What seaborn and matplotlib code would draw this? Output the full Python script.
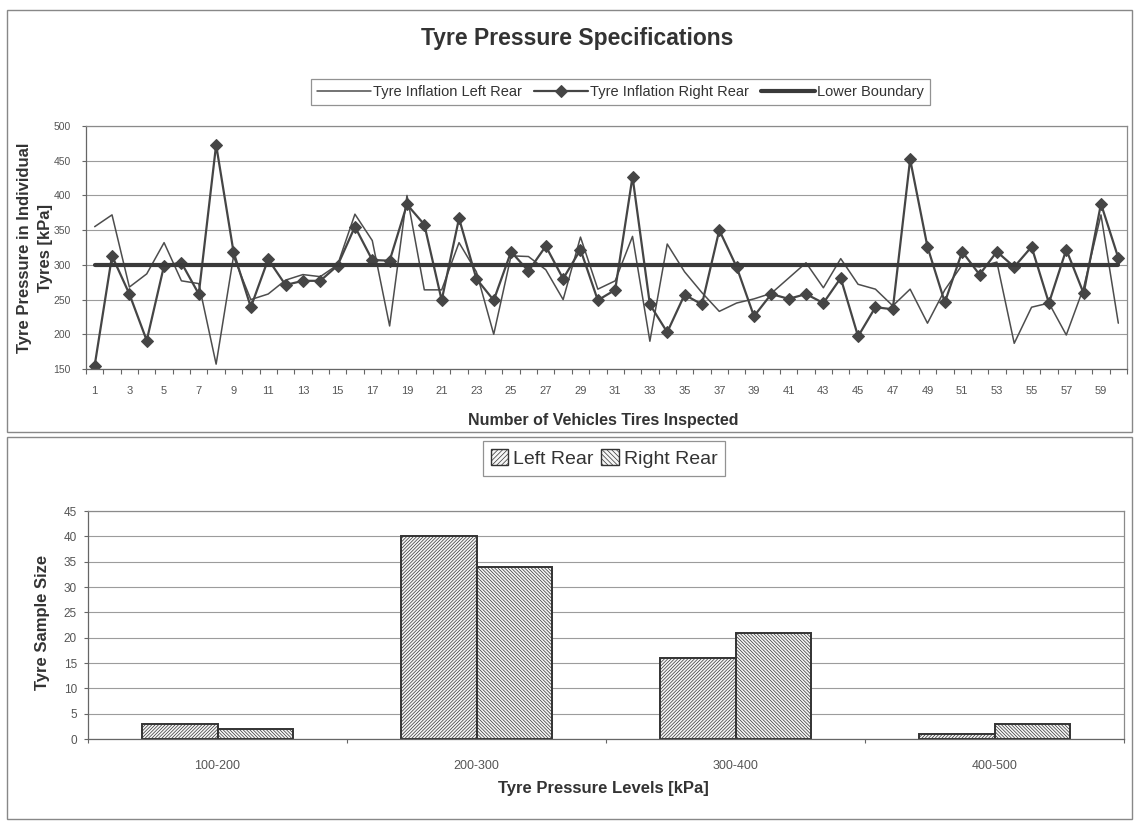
import matplotlib
matplotlib.use("Agg")
import numpy as np
import pandas as pd
import matplotlib.pyplot as plt
from matplotlib.patches import Rectangle, Patch
import seaborn as sns

# ---- data -------------------------------------------------------------
vehicles = list(range(1, 61))

left_rear = [355, 372, 268, 287, 332, 277, 273, 157, 312, 250,
             258, 278, 286, 283, 300, 373, 335, 212, 400, 264,
             264, 332, 290, 200, 313, 312, 293, 250, 340, 265,
             277, 341, 190, 330, 290, 260, 233, 245, 251, 259,
             281, 303, 267, 309, 272, 265, 241, 265, 216, 264,
             300, 297, 304, 187, 239, 245, 199, 267, 372, 216]

right_rear = [155, 313, 258, 191, 299, 303, 258, 473, 319, 239,
              308, 271, 277, 277, 299, 355, 307, 306, 387, 358,
              249, 367, 280, 249, 319, 291, 327, 280, 322, 249,
              264, 427, 243, 203, 257, 243, 350, 297, 226, 258,
              251, 258, 245, 281, 197, 239, 236, 452, 326, 246,
              319, 286, 319, 297, 326, 245, 322, 259, 388, 310]

lower_boundary = [300] * 60

x_tick_labels = [str(v) for v in vehicles[::2]]

pressure_levels = ["100-200", "200-300", "300-400", "400-500"]
left_counts = [3, 40, 16, 1]
right_counts = [2, 34, 21, 3]

# ---- style ------------------------------------------------------------
sns.set_theme(style="white")
plt.rcParams["font.family"] = ["Liberation Sans", "DejaVu Sans"]
plt.rcParams["hatch.linewidth"] = 0.5
plt.rcParams["hatch.color"] = "#444444"

W, H = 1135, 821
TXT = "#333333"
TICK = "#555555"
GRID = "#9c9c9c"

fig = plt.figure(figsize=(W / 100, H / 100), dpi=100)
fig.patch.set_facecolor("white")


def box(left, top, right, bottom):
    """Axes rectangle from pixel edges."""
    return [left / W, 1 - bottom / H, (right - left) / W, (bottom - top) / H]


# ---- top panel: per-vehicle tyre pressures ----------------------------
ax1 = fig.add_axes(box(86, 126, 1127, 369))
sns.lineplot(x=vehicles, y=left_rear, ax=ax1, color="#4d4d4d", lw=1.1,
             label="Tyre Inflation Left Rear")
sns.lineplot(x=vehicles, y=right_rear, ax=ax1, color="#454545", lw=1.6,
             marker="D", markersize=6.5, markeredgecolor="#454545",
             label="Tyre Inflation Right Rear")
sns.lineplot(x=vehicles, y=lower_boundary, ax=ax1, color="#3a3a3a", lw=3.0,
             label="Lower Boundary")

ax1.set_xlim(0.5, 60.5)
ax1.set_ylim(150, 500)
ax1.set_yticks(range(150, 501, 50))
ax1.set_xticks(vehicles[::2])
ax1.set_xticklabels(x_tick_labels)
ax1.set_xticks(np.arange(0.5, 61, 1), minor=True)
ax1.tick_params(axis="x", which="major", length=0, pad=12, labelsize=8,
                labelcolor=TICK)
ax1.tick_params(axis="x", which="minor", length=3.5, width=0.8, color="#666",
                direction="out", bottom=True)
ax1.tick_params(axis="y", length=3, width=0.8, color="#666", direction="out",
                left=True, pad=8, labelsize=7.5, labelcolor=TICK)
ax1.yaxis.grid(True, color=GRID, lw=0.8)
ax1.set_axisbelow(True)
ax1.set_xlabel("")
ax1.set_ylabel("")
for side, sp in ax1.spines.items():
    sp.set_color("#8a8a8a" if side in ("top", "right") else "#666666")
    sp.set_linewidth(0.9)

handles, labels = ax1.get_legend_handles_labels()
ax1.get_legend().remove()
fig.legend(handles, labels, loc="center", bbox_to_anchor=(620.5 / W, 1 - 92 / H),
           ncol=3, fontsize=10.5, frameon=True, fancybox=False, edgecolor="#777777",
           handlelength=3.7, handletextpad=0.15, columnspacing=0.8,
           borderpad=0.4, labelcolor=TXT).get_frame().set_linewidth(0.9)

fig.text(577 / W, 1 - 38 / H, "Tyre Pressure Specifications", ha="center",
         va="center", fontsize=16.5, fontweight="bold", color=TXT)
fig.text(603 / W, 1 - 420 / H, "Number of Vehicles Tires Inspected",
         ha="center", va="center", fontsize=11.5, fontweight="bold", color=TXT)
fig.text(35 / W, 1 - 248 / H, "Tyre Pressure in Individual\nTyres [kPa]",
         ha="center", va="center", rotation=90, fontsize=12, fontweight="bold",
         color=TXT, linespacing=1.5, multialignment="center")

# ---- bottom panel: counts per pressure band ---------------------------
bars = pd.DataFrame({
    "level": pressure_levels * 2,
    "side": ["Left Rear"] * len(pressure_levels) + ["Right Rear"] * len(pressure_levels),
    "count": left_counts + right_counts,
})

ax2 = fig.add_axes(box(88, 511, 1124, 739))
sns.barplot(data=bars, x="level", y="count", hue="side", ax=ax2, width=0.58,
            palette=["#f6f6f6", "#f6f6f6"], saturation=1, edgecolor="#333333",
            linewidth=1.4, legend=False)
hatches = ["/" * 10, "\\" * 10]
for cont, hatch in zip(ax2.containers, hatches):
    for bar in cont:
        bar.set_hatch(hatch)

ax2.set_xlim(-0.5, 3.5)
ax2.set_ylim(0, 45)
ax2.set_yticks(range(0, 46, 5))
ax2.set_xticks(np.arange(-0.5, 4, 1), minor=True)
ax2.tick_params(axis="x", which="major", length=0, pad=15, labelsize=9,
                labelcolor=TICK)
ax2.tick_params(axis="x", which="minor", length=3, width=0.8, color="#666",
                direction="out", bottom=True)
ax2.tick_params(axis="y", length=3, width=0.8, color="#666", direction="out",
                left=True, pad=5, labelsize=8.5, labelcolor=TICK)
ax2.yaxis.grid(True, color=GRID, lw=0.8)
ax2.set_axisbelow(True)
ax2.set_xlabel("")
ax2.set_ylabel("")
for side, sp in ax2.spines.items():
    sp.set_color("#8a8a8a" if side in ("top", "right") else "#666666")
    sp.set_linewidth(0.9)

leg_handles = [Patch(facecolor="#f6f6f6", edgecolor="#333333", hatch=h, lw=1.0)
               for h in ["/" * 7, "\\" * 7]]
fig.legend(leg_handles, ["Left Rear", "Right Rear"], loc="center",
           bbox_to_anchor=(604 / W, 1 - 458.5 / H), ncol=2, fontsize=14,
           frameon=True, fancybox=False, edgecolor="#777777",
           handlelength=0.9, handleheight=0.9, handletextpad=0.25,
           columnspacing=0.4, borderpad=0.4,
           labelcolor=TXT).get_frame().set_linewidth(0.9)

fig.text(603 / W, 1 - 788 / H, "Tyre Pressure Levels [kPa]", ha="center",
         va="center", fontsize=12, fontweight="bold", color=TXT)
fig.text(43 / W, 1 - 622 / H, "Tyre Sample Size", ha="center", va="center",
         rotation=90, fontsize=12, fontweight="bold", color=TXT)

# ---- panel frames -----------------------------------------------------
for (l, t, r, b) in [(7, 10, 1132, 432), (7, 437, 1132, 819)]:
    fig.add_artist(Rectangle((l / W, 1 - b / H), (r - l) / W, (b - t) / H,
                             transform=fig.transFigure, fill=False,
                             edgecolor="#888888", lw=1.0))

fig.savefig("out.png", dpi=100, facecolor="white")
